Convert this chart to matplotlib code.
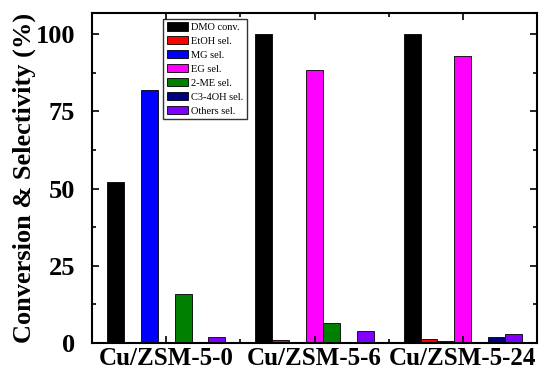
import numpy as np
import matplotlib.pyplot as plt
from matplotlib.ticker import MultipleLocator

plt.rcParams['font.family'] = 'Liberation Serif'

catalysts = ['Cu/ZSM-5-0', 'Cu/ZSM-5-6', 'Cu/ZSM-5-24']
series = ['DMO conv.', 'EtOH sel.', 'MG sel.', 'EG sel.', '2-ME sel.', 'C3-4OH sel.', 'Others sel.']
colors = ['black', 'red', 'blue', 'magenta', 'green', 'navy', '#8000ff']

dmo = [52, 100, 100]
etoh = [0, 1.0, 1.2]
mg = [82, 0, 0.7]
eg = [0, 88.5, 93]
me2 = [16, 6.5, 0]
c34oh = [0, 0, 2.0]
others = [2.0, 4.0, 2.8]
values = [dmo, etoh, mg, eg, me2, c34oh, others]

fig = plt.figure(figsize=(5.39, 3.72), dpi=100)
ax = fig.add_axes([0.1707, 0.078, 0.8256, 0.888])

x = np.arange(1, 4)
w = 0.114
for i, (name, vals, c) in enumerate(zip(series, values, colors)):
    ax.bar(x + (i - 3) * w, vals, w, color=c, edgecolor='black', linewidth=0.6, label=name)

ax.set_xlim(0.5, 3.5)
ax.set_ylim(0, 107)
ax.set_xticks(x)
ax.set_xticklabels(catalysts, fontsize=18, fontweight='bold')
ax.xaxis.set_minor_locator(MultipleLocator(0.5))
ax.yaxis.set_major_locator(MultipleLocator(25))
ax.yaxis.set_minor_locator(MultipleLocator(12.5))
for lab in ax.get_yticklabels():
    lab.set_fontsize(19)
    lab.set_fontweight('bold')
ax.tick_params(which='both', direction='in', top=True, right=True, width=1.2)
ax.tick_params(which='major', length=5)
ax.tick_params(axis='y', which='major', pad=12)
ax.tick_params(axis='x', which='major', pad=3)
ax.tick_params(which='minor', length=3)
for s in ax.spines.values():
    s.set_linewidth(1.5)
ax.set_ylabel('Conversion & Selectivity (%)', fontsize=19, fontweight='bold', labelpad=0)

ax.legend(loc='upper left', bbox_to_anchor=(0.16, 0.982), fontsize=7.5, frameon=True,
          fancybox=False, edgecolor='black', handlelength=2.0, handleheight=0.85,
          labelspacing=0.4, borderpad=0.35, handletextpad=0.3, borderaxespad=0)

fig.savefig('out.png', dpi=100)
